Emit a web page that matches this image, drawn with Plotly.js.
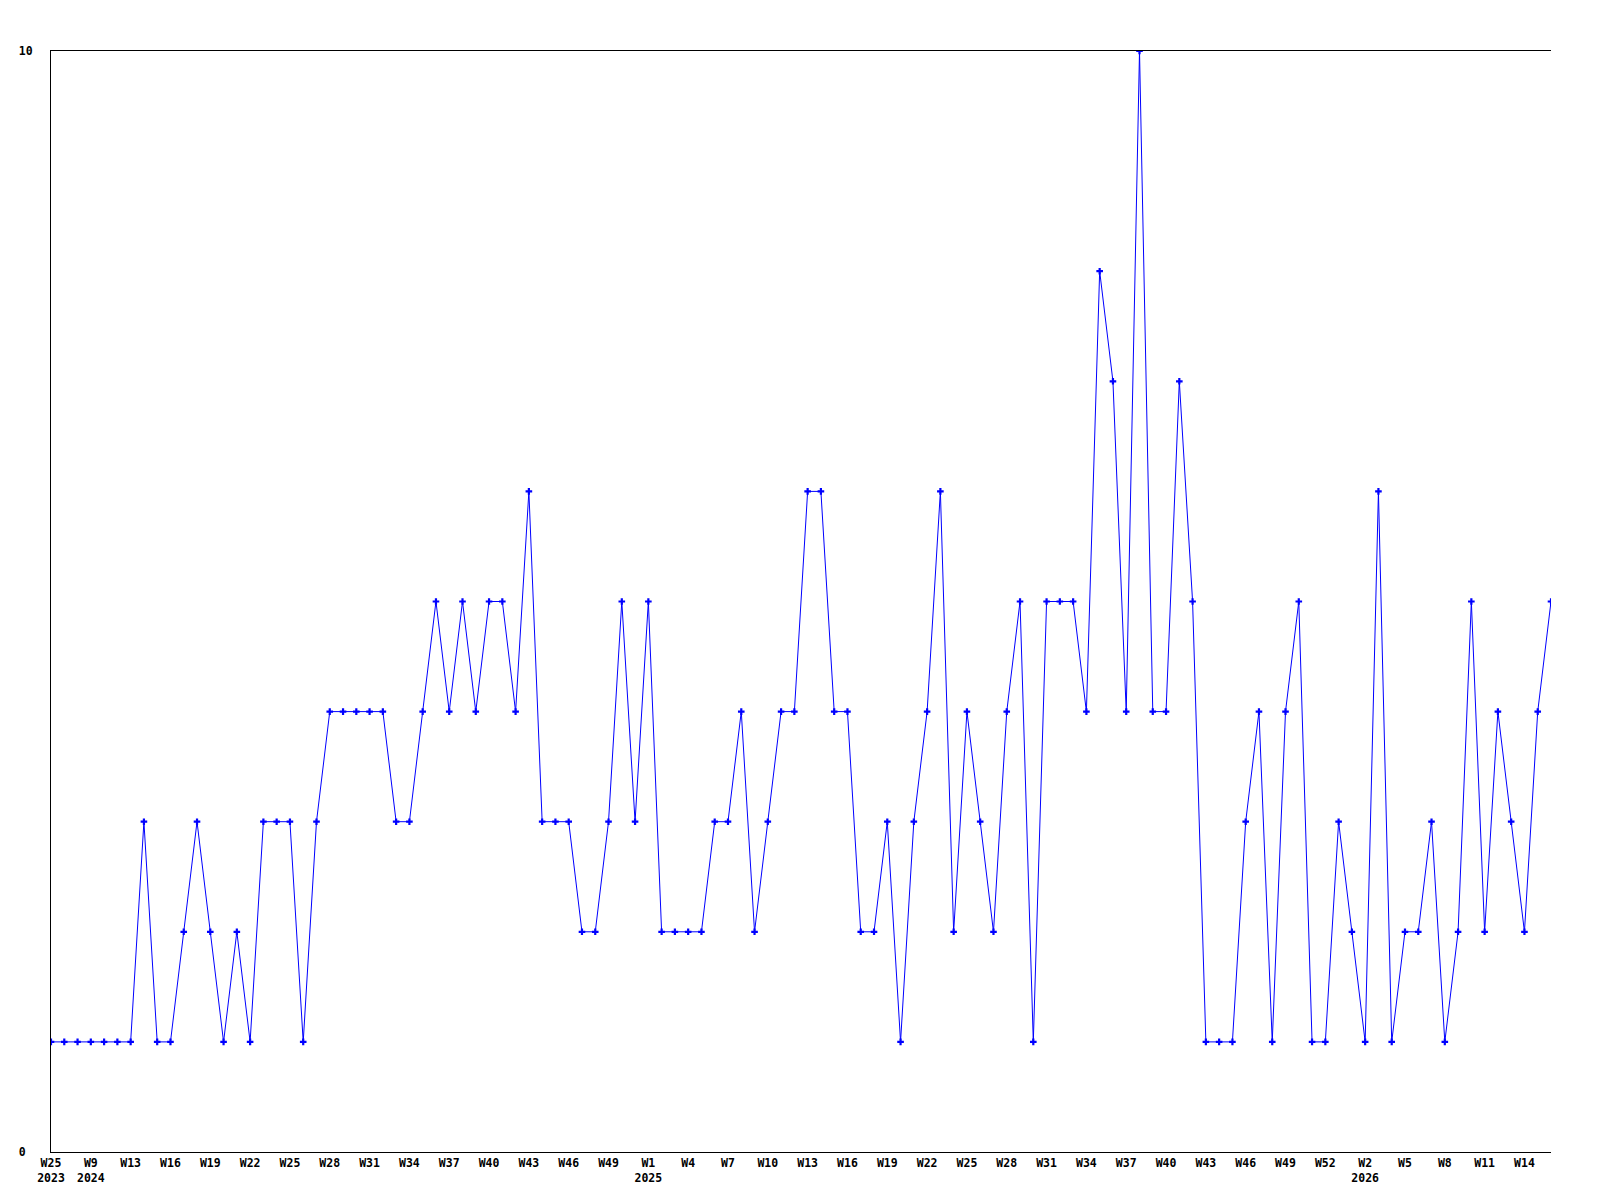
<!DOCTYPE html>
<html>
<head>
<meta charset="utf-8">
<script src="https://cdn.plot.ly/plotly-3.0.1.min.js"></script>
<style>
  html, body { margin: 0; padding: 0; background: #ffffff; }
  #chart { width: 1600px; height: 1200px; }
</style>
</head>
<body>
<div id="chart"></div>
<script>
// Weekly counts, one per point
const counts = [
  1, 1, 1, 1, 1, 1, 1, 3, 1, 1,
  2, 3, 2, 1, 2, 1, 3, 3, 3, 1,
  3, 4, 4, 4, 4, 4, 3, 3, 4, 5,
  4, 5, 4, 5, 5, 4, 6, 3, 3, 3,
  2, 2, 3, 5, 3, 5, 2, 2, 2, 2,
  3, 3, 4, 2, 3, 4, 4, 6, 6, 4,
  4, 2, 2, 3, 1, 3, 4, 6, 2, 4,
  3, 2, 4, 5, 1, 5, 5, 5, 4, 8,
  7, 4, 10, 4, 4, 7, 5, 1, 1, 1,
  3, 4, 1, 4, 5, 1, 1, 3, 2, 1,
  6, 1, 2, 2, 3, 1, 2, 5, 2, 4,
  3, 2, 4, 5
];

// Tick labels (every third point)
const weekLabels = [
  "W25", "W9", "W13", "W16", "W19", "W22", "W25", "W28", "W31", "W34",
  "W37", "W40", "W43", "W46", "W49", "W1", "W4", "W7", "W10", "W13",
  "W16", "W19", "W22", "W25", "W28", "W31", "W34", "W37", "W40", "W43",
  "W46", "W49", "W52", "W2", "W5", "W8", "W11", "W14"
];
const yearLabels = [
  "2023", "2024", "", "", "", "", "", "", "", "",
  "", "", "", "", "", "2025", "", "", "", "",
  "", "", "", "", "", "", "", "", "", "",
  "", "", "", "2026", "", "", "", ""
];
const labelStep = 3;

const yTickVals = [0, 10];
const yTickText = ["0\u00a0", "10"];

const xIdx = counts.map((_, i) => i);
const tickVals = weekLabels.map((_, k) => k * labelStep);
const tickText = weekLabels.map((w, k) => yearLabels[k] ? w + "<br>" + yearLabels[k] : w);

const tickFont = { family: "DejaVu Sans Mono", size: 11.5, color: "#000000", weight: "bold" };

const trace = {
  type: "scatter",
  mode: "lines+markers",
  x: xIdx,
  y: counts,
  line: { color: "#0000ff", width: 1 },
  marker: { symbol: "cross", size: 5.5, color: "#0000ff" },
  cliponaxis: true,
  hoverinfo: "x+y"
};

const layout = {
  width: 1600,
  height: 1200,
  margin: { l: 51, r: 49, t: 51, b: 48, pad: 0 },
  paper_bgcolor: "#ffffff",
  plot_bgcolor: "#ffffff",
  showlegend: false,
  xaxis: {
    type: "linear",
    range: [0, counts.length - 1],
    tickmode: "array",
    tickvals: tickVals,
    ticktext: tickText,
    tickfont: tickFont,
    showgrid: false,
    zeroline: false,
    showline: true,
    mirror: true,
    linecolor: "#000000",
    linewidth: 1,
    ticks: "",
    ticklabelstandoff: 0,
    tickangle: 0,
    fixedrange: true
  },
  yaxis: {
    type: "linear",
    range: [0, 10],
    tickmode: "array",
    tickvals: yTickVals,
    ticktext: yTickText,
    tickfont: tickFont,
    showgrid: false,
    zeroline: false,
    showline: true,
    linecolor: "#000000",
    linewidth: 1,
    ticks: "",
    ticklabelstandoff: 15,
    fixedrange: true
  }
};

Plotly.newPlot("chart", [trace], layout, { displayModeBar: false, staticPlot: true });
</script>
</body>
</html>
